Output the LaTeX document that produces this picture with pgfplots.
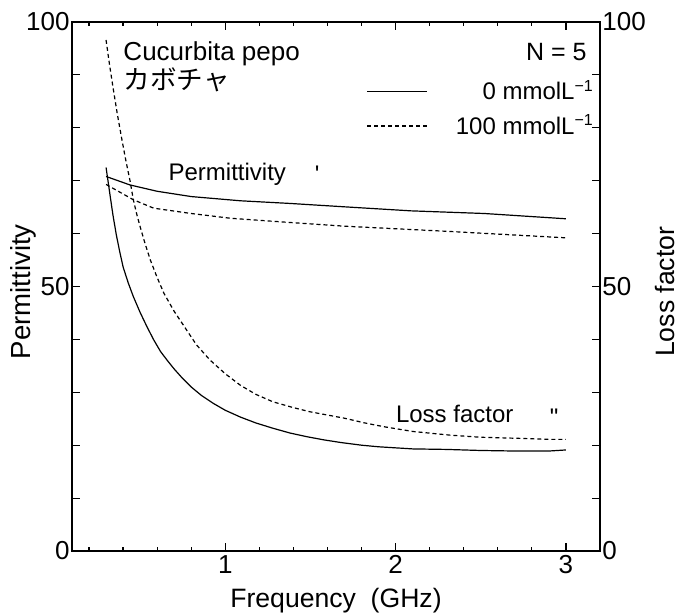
\documentclass[border=0pt]{standalone}
\usepackage{fontspec}
\setmainfont{Liberation Sans}[Ligatures=TeXOff]
\newfontfamily\cjk{Noto Sans CJK JP}
\usepackage{pgfplots}
\usepackage{pgfplotstable}
\pgfplotsset{compat=1.18}
\usetikzlibrary{calc}

\pgfplotstableread{
f v
0.30 72.5
0.32 68.0
0.34 63.6
0.36 59.8
0.38 56.6
0.40 53.7
0.43 50.7
0.46 48.1
0.50 45.1
0.54 42.4
0.58 39.9
0.62 37.7
0.66 36.0
0.70 34.4
0.75 32.6
0.80 31.0
0.86 29.4
0.93 27.9
1.00 26.6
1.09 25.3
1.18 24.2
1.28 23.2
1.38 22.3
1.48 21.6
1.58 21.0
1.68 20.5
1.80 20.0
1.90 19.7
2.00 19.5
2.10 19.3
2.30 19.2
2.50 19.0
2.70 18.9
2.90 18.9
3.00 19.1
}\lossA
\pgfplotstableread{
f v
0.30 96.6
0.32 92.0
0.34 87.8
0.365 82.8
0.39 78.3
0.415 74.0
0.44 70.1
0.46 66.4
0.48 63.7
0.50 61.3
0.53 58.0
0.56 55.0
0.60 51.7
0.64 48.7
0.70 45.3
0.76 42.4
0.83 39.0
0.91 36.1
1.00 33.5
1.09 31.3
1.18 29.6
1.28 28.2
1.40 27.1
1.50 26.3
1.60 25.7
1.70 25.1
1.82 24.2
1.93 23.5
2.10 22.6
2.32 21.9
2.50 21.5
2.72 21.3
2.90 21.1
3.00 21.1
}\lossB
\pgfplotstableread{
f v
0.30 70.8
0.44 69.2
0.60 68.0
0.80 67.0
1.09 66.2
1.38 65.7
1.68 65.1
2.09 64.3
2.52 63.8
3.00 62.8
}\permA
\pgfplotstableread{
f v
0.30 69.3
0.46 66.4
0.58 64.8
0.80 63.8
1.03 62.9
1.38 62.1
1.70 61.4
2.32 60.4
3.00 59.2
}\permB

\begin{document}
\fontsize{12}{14}\selectfont
\begin{tikzpicture}[font=\fontsize{12}{14}\selectfont]
\begin{axis}[name=a, scale only axis, width=264pt, height=264.5pt,
  xmin=0.1, xmax=3.2, ymin=0, ymax=100,
  xtick={1,2,3}, minor xtick={0.2,0.4,...,3.1},
  ytick={0,10,...,100}, yticklabels={0,,,,,50,,,,,100},
  tick align=inside, major tick length=4pt, minor tick length=2.2pt,
  xtick pos=both, ytick pos=both, yticklabel pos=left,
  /pgf/number format/assume math mode=true,
  axis line style={line width=0.7pt},
  every tick/.style={line width=0.6pt, black},
  tick label style={font=\fontsize{13}{15}\selectfont},
  yticklabel style={inner sep=1pt},
  xticklabel style={inner sep=2pt},
  xlabel={Frequency\ \ (GHz)},
  xlabel style={at={(axis description cs:0.5,-0.0945)}, anchor=center, font=\fontsize{13.3}{15}\selectfont},
  ylabel={Permittivity},
  ylabel style={at={(axis description cs:-0.093,0.49)}, anchor=center, rotate=0, font=\fontsize{13.8}{15}\selectfont},
  legend image code/.code={\draw[#1] (0pt,0pt) -- (30pt,0pt);},
  legend cell align=right,
  legend style={draw=none, fill=none, at={(axis description cs:1.008,0.906)}, anchor=north east,
    font=\fontsize{12}{14}\selectfont, row sep=1.5pt,
    /tikz/every odd column/.append style={column sep=12pt}},
]
\addplot[black, line width=0.6pt] table[x=f,y=v] {\permA};
\addlegendentry{0 mmolL\textsuperscript{−1}}
\addplot[black, line width=0.6pt, dash pattern=on 2pt off 1.5pt] table[x=f,y=v] {\permB};
\addlegendentry{100 mmolL\textsuperscript{−1}}
\addplot[black, line width=0.6pt, forget plot] table[x=f,y=v] {\lossA};
\addplot[black, line width=0.6pt, dash pattern=on 2pt off 1.5pt, forget plot] table[x=f,y=v] {\lossB};

\node[anchor=base west, inner sep=0pt, font=\fontsize{13}{15}\selectfont] at (axis cs:0.4,92.8) {Cucurbita pepo};
\node[anchor=base west, inner sep=0pt] at (axis cs:0.4,87.3) {\cjk\fontsize{13.3}{15}\selectfont カボチャ};
\node[anchor=base east, inner sep=0pt, font=\fontsize{12.5}{15}\selectfont] at (axis cs:3.124,92.8) {N = 5};
\node[anchor=base west, inner sep=0pt] at (axis cs:0.665,70.1) {Permittivity};
\node[anchor=north, inner sep=0pt] at (axis cs:1.54,72.9) {'};
\node[anchor=base west, inner sep=0pt] at (axis cs:2.0,24.3) {Loss factor};
\node[anchor=north, inner sep=0pt] at (axis cs:2.93,27.0) {"};
\node[rotate=90, inner sep=0pt] at (axis description cs:-0.108,0.685) {'};
\node[rotate=90, inner sep=0pt] at (axis description cs:1.11,0.688) {"};
\end{axis}
\begin{axis}[scale only axis, width=264pt, height=264.5pt,
  xmin=0.1, xmax=3.2, ymin=0, ymax=100,
  axis x line=none, axis y line*=right,
  ytick={0,50,100}, ytick style={draw=none},
  /pgf/number format/assume math mode=true,
  axis line style={line width=0.7pt},
  tick label style={font=\fontsize{13}{15}\selectfont},
  yticklabel style={inner sep=1pt},
  ylabel={Loss factor},
  ylabel style={at={(axis description cs:1.123,0.49)}, anchor=center, rotate=0, font=\fontsize{13.3}{15}\selectfont},
]
\end{axis}
\pgfresetboundingbox
\path ($(a.south west)+(-36pt,-32pt)$) rectangle ($(a.north east)+(39.5pt,11pt)$);
\end{tikzpicture}
\end{document}
